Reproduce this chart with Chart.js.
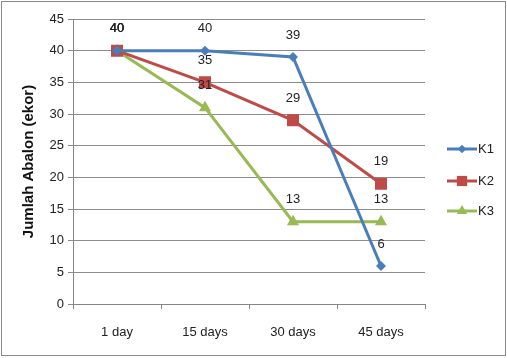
<!DOCTYPE html>
<html><head><meta charset="utf-8">
<script src="https://cdn.jsdelivr.net/npm/chart.js@4/dist/chart.umd.min.js"></script>
<style>html,body{margin:0;padding:0;background:#fff}#w{width:507px;height:358px}</style>
</head><body><div id="w"><canvas id="c" width="507" height="358"></canvas></div>
<script>
const categories = ['1 day', '15 days', '30 days', '45 days'];
const seriesNames = ['K1', 'K2', 'K3'];
const k1 = [40, 40, 39, 6];
const k2 = [40, 35, 29, 19];
const k3 = [40, 31, 13, 13];
const yTicksMax = 45;
const yTitle = 'Jumlah Abalon (ekor)';

const FONT = "'Liberation Sans Narrow','Liberation Sans',Arial,sans-serif";
const colors = ['#4A7EBB', '#BE4B48', '#98B954'];
const styles = ['rectRot', 'rect', 'triangle'];
const radii = [5, 8.5, 7];

const frame = {
  id: 'frame',
  beforeDraw(c) {
    const ctx = c.ctx; ctx.save();
    ctx.fillStyle = '#fff'; ctx.fillRect(0, 0, c.width, c.height);
    ctx.strokeStyle = '#8a8a8a'; ctx.lineWidth = 1;
    ctx.strokeRect(1.5, 1.5, c.width - 3, c.height - 4);
    ctx.restore();
  }
};
const labels = {
  id: 'labels',
  afterDatasetsDraw(c) {
    const ctx = c.ctx; ctx.save();
    ctx.font = '13px ' + FONT; ctx.fillStyle = '#222';
    ctx.textAlign = 'center'; ctx.textBaseline = 'middle';
    c.data.datasets.forEach((ds, i) => {
      c.getDatasetMeta(i).data.forEach((p, j) => {
        ctx.fillText(String(ds.data[j]), p.x, p.y - 22);
      });
    });
    ctx.restore();
  }
};
const legend = {
  id: 'mylegend',
  afterDraw(c) {
    const ctx = c.ctx; ctx.save();
    const ys = [149, 181, 211];
    c.data.datasets.forEach((ds, i) => {
      const y = ys[i];
      ctx.strokeStyle = ds.borderColor; ctx.lineWidth = 3;
      ctx.beginPath(); ctx.moveTo(447, y); ctx.lineTo(477, y); ctx.stroke();
      ctx.fillStyle = ds.borderColor;
      Chart.helpers.drawPoint(ctx, {pointStyle: ds.pointStyle, radius: ds.pointRadius * 0.85, borderWidth: 0}, 462, y);
      ctx.fillStyle = '#222'; ctx.font = '13px ' + FONT;
      ctx.textAlign = 'left'; ctx.textBaseline = 'middle';
      ctx.fillText(ds.label, 478, y);
    });
    ctx.restore();
  }
};

new Chart(document.getElementById('c'), {
  type: 'line',
  data: {
    labels: categories,
    datasets: [k1, k2, k3].map((d, i) => ({
      label: seriesNames[i], data: d,
      borderColor: colors[i], backgroundColor: colors[i],
      pointBackgroundColor: colors[i], pointBorderColor: colors[i],
      borderWidth: 3, pointStyle: styles[i], pointRadius: radii[i], pointBorderWidth: 0,
      tension: 0
    }))
  },
  options: {
    responsive: false, animation: false,
    layout: {padding: {left: 20, right: 82, top: 19, bottom: 4}},
    plugins: {legend: {display: false}, tooltip: {enabled: false}},
    scales: {
      x: {
        offset: true,
        grid: {offset: true, display: true, drawOnChartArea: false, color: '#868686', tickLength: 5},
        border: {color: '#868686'},
        ticks: {font: {family: FONT, size: 13}, color: '#222', padding: 16},
        afterFit(s) { s.height = 50; }
      },
      y: {
        min: 0, max: yTicksMax,
        ticks: {stepSize: 5, font: {family: FONT, size: 13}, color: '#222', padding: 4},
        grid: {color: '#8c8c8c', tickLength: 5},
        border: {color: '#868686'},
        title: {display: true, text: yTitle, font: {family: "'Liberation Sans','DejaVu Sans',sans-serif", size: 15, weight: 'bold'}, color: '#111', padding: 0},
        afterFit(s) { s.width = 53; }
      }
    }
  },
  plugins: [frame, labels, legend]
});
</script></body></html>
